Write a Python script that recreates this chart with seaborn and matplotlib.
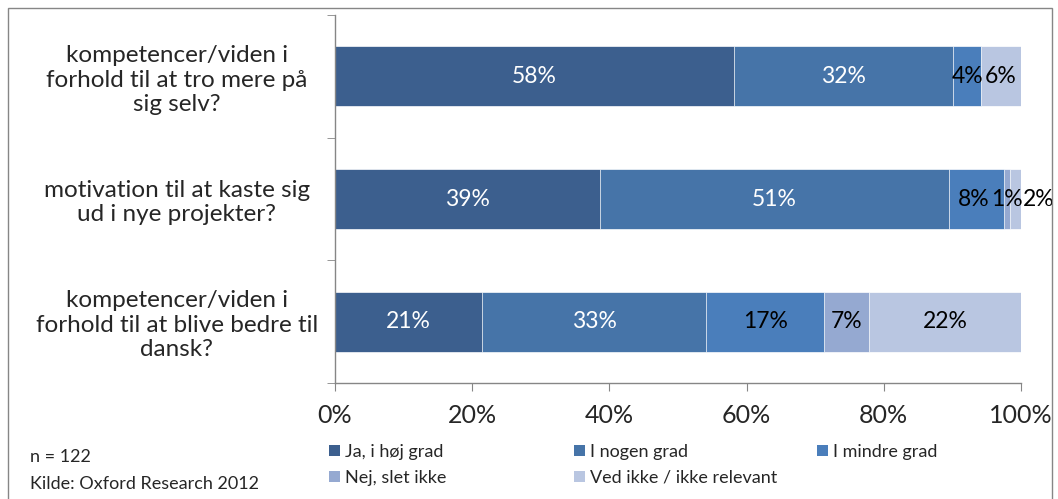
import matplotlib
matplotlib.use("Agg")
import matplotlib.pyplot as plt
from matplotlib.patches import Patch, Rectangle
import seaborn as sns

# Data
categories = [
    "kompetencer/viden i\nforhold til at tro mere på\nsig selv?",
    "motivation til at kaste sig\nud i nye projekter?",
    "kompetencer/viden i\nforhold til at blive bedre til\ndansk?",
]
series_names = ["Ja, i høj grad", "I nogen grad", "I mindre grad",
                "Nej, slet ikke", "Ved ikke / ikke relevant"]
ja = [58.2, 38.6, 21.4]
nogen = [31.9, 50.9, 32.7]
mindre = [4.1, 8.0, 17.2]
nej = [0.0, 0.9, 6.6]
ved_ikke = [5.8, 1.6, 22.1]
series_values = [ja, nogen, mindre, nej, ved_ikke]
x_ticks = [0, 20, 40, 60, 80, 100]

colors = ["#3c5f8e", "#4674a8", "#4a7ebb", "#95a9d1", "#b9c6e1"]
text_colors = ["white", "white", "black", "black", "black"]
# label nudges (points) where Excel moved labels to avoid overlap
nudges = {(1, 2): -2, (1, 4): 17}

sns.set_style("white")
plt.rcParams["font.family"] = ["Lato", "DejaVu Sans"]

W, H = 1058, 499
fig = plt.figure(figsize=(W / 100, H / 100), dpi=100)
ax = fig.add_axes([335 / W, 1 - 383 / H, (1021 - 335) / W, (383 - 15) / H])

# cumulative sums, drawn back to front so the bars stack
cums = []
running = [0.0] * len(categories)
for vals in series_values:
    running = [r + v for r, v in zip(running, vals)]
    cums.append(list(running))

for i in reversed(range(len(series_values))):
    sns.barplot(x=cums[i], y=categories, color=colors[i], orient="h", saturation=1,
                width=0.49, edgecolor="white", linewidth=0.5, ax=ax)

# data labels
for i, vals in enumerate(series_values):
    for j, v in enumerate(vals):
        if v <= 0:
            continue
        center = cums[i][j] - v / 2
        ax.annotate(f"{round(v)}%", (center, j), xytext=(nudges.get((j, i), 0), 0),
                    textcoords="offset points", ha="center", va="center",
                    fontsize=16.5, color=text_colors[i])

ax.set_xlim(0, 100)
ax.set_ylim(2.5, -0.5)
ax.set_xticks(x_ticks, labels=[f"{t}%" for t in x_ticks])
ax.set_yticks(range(len(categories)), labels=categories, ha="center", ma="center")
ax.set_yticks([-0.5, 0.5, 1.5, 2.5], minor=True)
ax.tick_params(axis="y", which="major", length=0, pad=114, labelsize=17.5)
ax.tick_params(axis="y", which="minor", length=6, color="#868686", direction="out", left=True)
ax.tick_params(axis="x", length=6, color="#868686", direction="out", bottom=True,
               labelsize=18, pad=9)
for s in ["top", "right"]:
    ax.spines[s].set_visible(False)
for s in ["left", "bottom"]:
    ax.spines[s].set_color("#868686")
    ax.spines[s].set_linewidth(1)
ax.set_xlabel("")
ax.set_ylabel("")

# legend, one block per column like the Excel layout
handles = [Patch(facecolor=c, edgecolor="none", label=n) for c, n in zip(colors, series_names)]
col_x = [329, 574, 817]
for k, x in enumerate(col_x):
    hs = handles[k::3]
    fig.legend(handles=hs, loc="upper left", bbox_to_anchor=(x / W, 1 - 444 / H),
               frameon=False, fontsize=13, handlelength=0.6, handleheight=0.6,
               handletextpad=0.3, borderpad=0, borderaxespad=0, labelspacing=0.55)

fig.text(30 / W, 1 - 457 / H, "n = 122", fontsize=13, va="center")
fig.text(30 / W, 1 - 484 / H, "Kilde: Oxford Research 2012", fontsize=13, va="center")

# outer frame
fig.patches.append(Rectangle((8 / W, -0.05), (1052 - 8) / W, 1.05 - 8 / H,
                             transform=fig.transFigure, fill=False,
                             edgecolor="#868686", linewidth=1))

fig.savefig("out.png", dpi=100)
